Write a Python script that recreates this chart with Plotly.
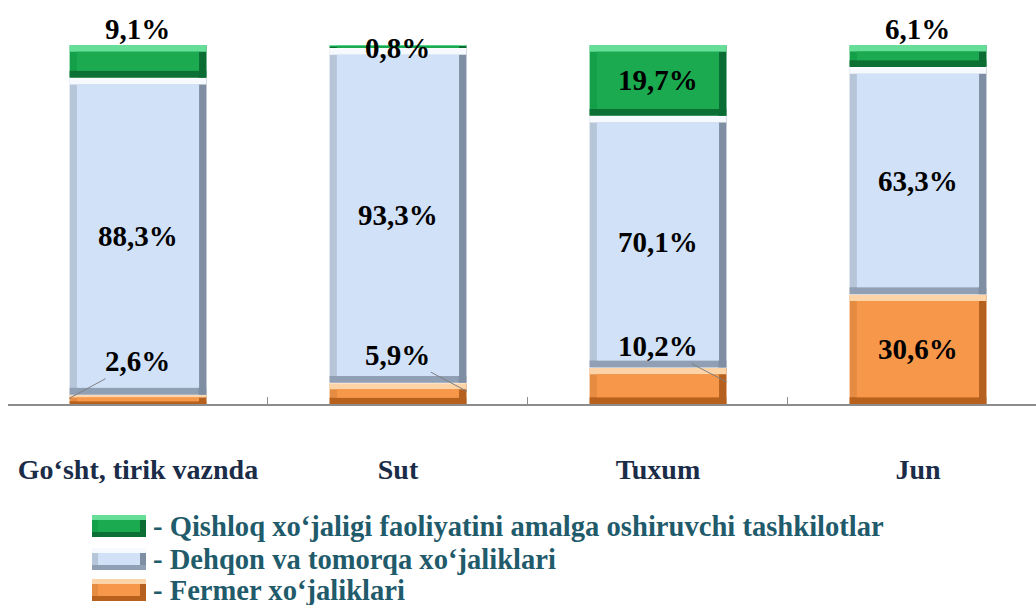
import plotly.graph_objects as go

# ---------------- data ----------------
categories = ["Go‘sht, tirik vaznda", "Sut", "Tuxum", "Jun"]
fermer = [2.6, 5.9, 10.2, 30.6]          # Fermer xo‘jaliklari
dehqon = [88.3, 93.3, 70.1, 63.3]        # Dehqon va tomorqa xo‘jaliklari
qishloq = [9.1, 0.8, 19.7, 6.1]          # Qishloq xo‘jaligi ... tashkilotlar
series_names = [
    "- Qishloq xo‘jaligi faoliyatini amalga oshiruvchi tashkilotlar",
    "- Dehqon va tomorqa xo‘jaliklari",
    "- Fermer xo‘jaliklari",
]

def fmt(v):
    return f"{v:.1f}".replace(".", ",") + "%"

# ---------------- style ----------------
FONT = "'Liberation Serif', 'Times New Roman', serif"
BAR_W = 0.53
H_INSET = 0.030
V_INSET = 1.9
styles = {
    "qishloq": dict(left="#14a049", right="#0b6c34", bottom="#0c7034", light="#66de98", face="#1baa50"),
    "dehqon": dict(left="#b6c5d8", right="#7f8ea3", bottom="#909fb3", light="#f6f9fe", face="#d0e1f8"),
    "fermer": dict(left="#e68c42", right="#b5601e", bottom="#b8611d", light="#fcd4a8", face="#f7974a"),
}

fig = go.Figure()

def add_segment_traces(vals, bases, st):
    insets = [min(V_INSET, v * 0.3) for v in vals]
    common = dict(x=categories, showlegend=False, hoverinfo="skip")
    # outer layer (left bevel colour)
    fig.add_trace(go.Bar(y=vals, base=bases, width=BAR_W,
                         marker=dict(color=st["left"], line=dict(color="white", width=1)), **common))
    # bottom bevel
    fig.add_trace(go.Bar(y=insets, base=bases, width=BAR_W - 0.004,
                         marker=dict(color=st["bottom"], line=dict(width=0)), **common))
    # right bevel
    fig.add_trace(go.Bar(y=vals, base=bases, width=H_INSET, offset=BAR_W / 2 - H_INSET - 0.002,
                         marker=dict(color=st["right"], line=dict(width=0)), **common))
    # top highlight band
    fig.add_trace(go.Bar(y=insets, base=[b + v - i for b, v, i in zip(bases, vals, insets)],
                         width=BAR_W - 0.004, marker=dict(color=st["light"], line=dict(width=0)),
                         **common))
    # face
    fig.add_trace(go.Bar(y=[max(v - 2 * i, 0) for v, i in zip(vals, insets)],
                         base=[b + i for b, i in zip(bases, insets)],
                         width=BAR_W - 2 * H_INSET,
                         marker=dict(color=st["face"], line=dict(width=0)), **common))

zeros = [0] * len(categories)
add_segment_traces(fermer, zeros, styles["fermer"])
add_segment_traces(dehqon, fermer, styles["dehqon"])
q_base = [f + d for f, d in zip(fermer, dehqon)]
add_segment_traces(qishloq, q_base, styles["qishloq"])

# ---------------- data labels ----------------
lab_font = dict(family=FONT, size=29, color="black", weight="bold")
annotations = []
green_mode = ["above", "edge", "center", "above"]
orange_mode = ["left", "right", "right", "center"]

for i, cat in enumerate(categories):
    annotations.append(dict(x=i, y=fermer[i] + dehqon[i] / 2, text=fmt(dehqon[i]),
                            showarrow=False, font=lab_font, xref="x", yref="y"))
    top = q_base[i] + qishloq[i]
    if green_mode[i] == "above":
        annotations.append(dict(x=i, y=top, yanchor="bottom", yshift=-2, text=fmt(qishloq[i]),
                                showarrow=False, font=lab_font, xref="x", yref="y"))
    elif green_mode[i] == "edge":
        annotations.append(dict(x=i, y=q_base[i], text=fmt(qishloq[i]),
                                showarrow=False, font=lab_font, xref="x", yref="y"))
    else:
        annotations.append(dict(x=i, y=q_base[i] + qishloq[i] / 2, text=fmt(qishloq[i]),
                                showarrow=False, font=lab_font, xref="x", yref="y"))
    if orange_mode[i] == "center":
        annotations.append(dict(x=i, y=fermer[i] / 2, text=fmt(fermer[i]),
                                showarrow=False, font=lab_font, xref="x", yref="y"))
    else:
        side = -1 if orange_mode[i] == "left" else 1
        ty = 0.55 * fermer[i] + 10.5
        annotations.append(dict(x=i + side * BAR_W / 2, y=fermer[i] * 0.6,
                                ax=i, ay=ty, axref="x", ayref="y",
                                xref="x", yref="y", text=fmt(fermer[i]),
                                showarrow=True, arrowhead=0, arrowwidth=1,
                                arrowcolor="#7f7f7f", font=lab_font))

# ---------------- custom legend ----------------
L_PLOT, T_PLOT, W_PLOT, H_PLOT = 8, 45, 1028, 359

def px_x(px):
    return (px - L_PLOT) / W_PLOT

def px_y(py):
    return (T_PLOT + H_PLOT - py) / H_PLOT

shapes = []
leg_rows = [526, 559, 590]
leg_styles = [styles["qishloq"], styles["dehqon"], styles["fermer"]]
for name, row, st in zip(series_names, leg_rows, leg_styles):
    x0, x1 = 92, 146
    y0, y1 = row - 11, row + 11
    shapes.append(dict(type="rect", xref="paper", yref="paper", x0=px_x(x0), x1=px_x(x1),
                       y0=px_y(y1), y1=px_y(y0), fillcolor=st["left"], line=dict(width=0)))
    shapes.append(dict(type="rect", xref="paper", yref="paper", x0=px_x(x1 - 6), x1=px_x(x1),
                       y0=px_y(y1), y1=px_y(y0), fillcolor=st["right"], line=dict(width=0)))
    shapes.append(dict(type="rect", xref="paper", yref="paper", x0=px_x(x0), x1=px_x(x1),
                       y0=px_y(y1), y1=px_y(y1 - 5), fillcolor=st["bottom"], line=dict(width=0)))
    shapes.append(dict(type="rect", xref="paper", yref="paper", x0=px_x(x0), x1=px_x(x1),
                       y0=px_y(y0 + 5), y1=px_y(y0), fillcolor=st["light"], line=dict(width=0)))
    shapes.append(dict(type="rect", xref="paper", yref="paper", x0=px_x(x0 + 6), x1=px_x(x1 - 6),
                       y0=px_y(y1 - 5), y1=px_y(y0 + 5), fillcolor=st["face"], line=dict(width=0)))
    annotations.append(dict(x=px_x(151), y=px_y(row), xref="paper", yref="paper",
                            xanchor="left", yanchor="middle", text=name, showarrow=False,
                            font=dict(family=FONT, size=28.6, color="#1f5b6b", weight="bold")))

fig.update_layout(
    barmode="overlay",
    width=1036, height=605,
    margin=dict(l=L_PLOT, r=0, t=T_PLOT, b=605 - T_PLOT - H_PLOT),
    plot_bgcolor="white", paper_bgcolor="white",
    showlegend=False,
    annotations=annotations,
    shapes=shapes,
    xaxis=dict(type="category", range=[-0.5, 3.454], showline=True, linecolor="#8c8c8c",
               linewidth=1.5, ticks="inside", tickson="boundaries", ticklen=7,
               tickcolor="#8c8c8c", showgrid=False, zeroline=False,
               ticklabelstandoff=40,
               tickfont=dict(family=FONT, size=28, color="#1b2c48", weight="bold")),
    yaxis=dict(range=[0, 100], visible=False, showgrid=False),
)

fig.write_html("out.html", config={"displayModeBar": False},
               post_script="document.body.style.margin='0';document.body.style.overflow='hidden';")
